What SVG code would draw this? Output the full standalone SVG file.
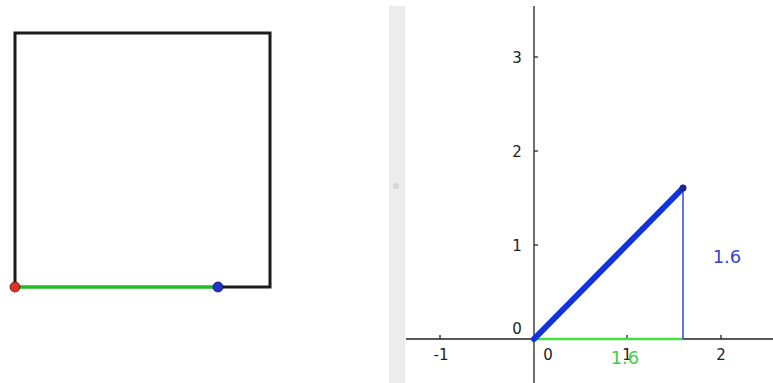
<svg xmlns="http://www.w3.org/2000/svg" width="773" height="383" viewBox="0 0 773 383">
<style>
.tick{font-family:"DejaVu Sans","Liberation Sans",sans-serif;font-size:15px;fill:#222;text-anchor:middle}
.ax{stroke:#222;stroke-width:1.3;fill:none}
.lbl{font-family:"DejaVu Sans","Liberation Sans",sans-serif;font-size:18px;text-anchor:middle}
</style>
<rect width="773" height="383" fill="#fff"/>
<g id="square">
<polyline points="15,287 15,33 270,33 270,287 218,287" fill="none" stroke="#1a1a1a" stroke-width="3"/>
</g>
<g id="green-segment">
<line x1="15" y1="287" x2="218" y2="287" stroke="#22bb22" stroke-width="3.5"/>
</g>
<g id="point-red"><circle cx="15" cy="287" r="5" fill="#dd3322" stroke="#661111" stroke-width="0.8"/></g>
<g id="point-blue"><circle cx="218" cy="287" r="5" fill="#2233cc" stroke="#111155" stroke-width="0.8"/></g>
<g id="divider">
<rect x="389" y="6" width="16" height="377" fill="#ececec"/>
<circle cx="396" cy="186" r="3" fill="#d6d6d6"/>
</g>
<g id="axes">
<line class="ax" x1="406" y1="339" x2="773" y2="339"/>
<line class="ax" x1="534" y1="6" x2="534" y2="383"/>
<line class="ax" x1="440" y1="335" x2="440" y2="339"/>
<line class="ax" x1="627" y1="335" x2="627" y2="339"/>
<line class="ax" x1="721" y1="335" x2="721" y2="339"/>
<line class="ax" x1="534" y1="57" x2="538" y2="57"/>
<line class="ax" x1="534" y1="151" x2="538" y2="151"/>
<line class="ax" x1="534" y1="245" x2="538" y2="245"/>
<text class="tick" x="517" y="63">3</text>
<text class="tick" x="517" y="157">2</text>
<text class="tick" x="517" y="251">1</text>
<text class="tick" x="517" y="334">0</text>
<text class="tick" x="441" y="360">-1</text>
<text class="tick" x="548" y="360">0</text>
<text class="tick" x="627" y="360">1</text>
<text class="tick" x="721" y="360">2</text>
</g>
<g id="connectors">
<line x1="534" y1="339" x2="683" y2="339" stroke="#44dd44" stroke-width="2.5"/>
<line x1="683" y1="188" x2="683" y2="339" stroke="#3344dd" stroke-width="1.5"/>
<line x1="534" y1="339" x2="683" y2="188" stroke="#1133dd" stroke-width="6" stroke-linecap="round"/>
</g>
<g id="point-A"><circle cx="683" cy="188" r="3.5" fill="#1a2a88"/></g>
<g id="labels">
<text class="lbl" x="625" y="364" fill="#44cc44">1.6</text>
<text class="lbl" x="727" y="263" fill="#3344cc">1.6</text>
</g>
</svg>
